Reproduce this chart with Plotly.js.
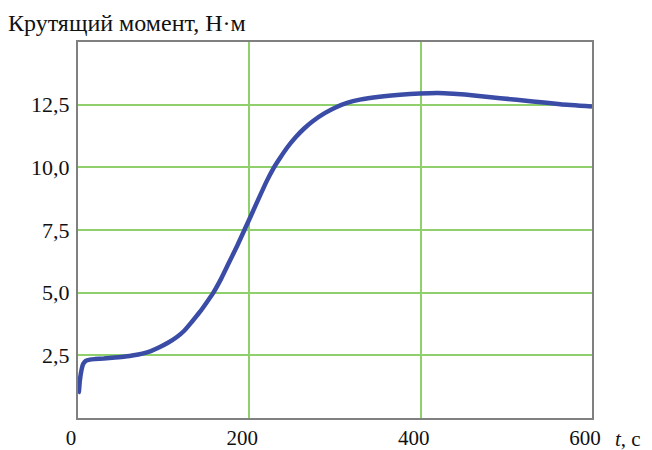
<!DOCTYPE html>
<html>
<head>
<meta charset="utf-8">
<script src="https://cdn.plot.ly/plotly-3.0.1.min.js"></script>
<style>html,body{margin:0;padding:0;background:#fff;}#chart{width:652px;height:450px;}</style>
</head>
<body>
<div id="chart"></div>
<script>
const timeSec = [0, 1, 2, 4, 6, 9, 14, 20, 30, 43, 55, 65, 75, 85, 95, 105, 115, 124, 133, 142, 150, 158, 167, 176, 186, 194, 202, 211, 220, 228, 236, 244, 254, 264, 274, 288, 300, 314, 329, 352, 376, 399, 420, 438, 465, 493, 531, 563, 600];
const torque = [0.98, 1.05, 1.45, 1.9, 2.15, 2.28, 2.33, 2.35, 2.37, 2.41, 2.45, 2.5, 2.57, 2.67, 2.82, 3.0, 3.22, 3.48, 3.84, 4.22, 4.6, 5.0, 5.55, 6.18, 6.88, 7.48, 8.08, 8.76, 9.43, 9.95, 10.38, 10.78, 11.2, 11.55, 11.84, 12.16, 12.38, 12.57, 12.7, 12.82, 12.9, 12.95, 12.97, 12.94, 12.86, 12.76, 12.63, 12.52, 12.43];
const xTickVals = [0, 200, 400, 600];
const xTickText = ["0", "200", "400", "600"];
const yTickVals = [2.5, 5.0, 7.5, 10.0, 12.5];
const yTickText = ["2,5", "5,0", "7,5", "10,0", "12,5"];
const yTitle = "Крутящий момент, Н·м";
const xTitle = "<i>t</i>, с";

const font = {family: "Liberation Serif, Times New Roman, serif", size: 22, color: "#111"};
const xfont = {family: font.family, size: 21, color: "#111"};

Plotly.newPlot("chart", [{
  x: timeSec, y: torque, type: "scatter", mode: "lines",
  line: {color: "#3a4ca6", width: 4.5, shape: "spline", smoothing: 0.5},
  hoverinfo: "skip"
}], {
  width: 652, height: 450,
  margin: {l: 78, r: 60, t: 42, b: 32},
  paper_bgcolor: "#fff", plot_bgcolor: "#fff",
  showlegend: false,
  font: font,
  title: {text: yTitle, x: 8/652, xanchor: "left", xref: "container", y: 1 - 23/450, yanchor: "middle", yref: "container", font: {family: font.family, size: 24, color: "#111"}},
  xaxis: {
    range: [0, 600], tickvals: xTickVals, ticktext: xTickText,
    showgrid: true, gridcolor: "#8fd06c", gridwidth: 2,
    showline: true, mirror: true, linecolor: "#808080", linewidth: 2,
    ticks: "", zeroline: false, ticklabelshift: -7, ticklabelstandoff: 0,
    tickfont: xfont
  },
  yaxis: {
    range: [0, 15], tickvals: yTickVals, ticktext: yTickText,
    showgrid: true, gridcolor: "#8fd06c", gridwidth: 2,
    showline: true, mirror: true, linecolor: "#808080", linewidth: 2,
    ticks: "", zeroline: false, ticklabelstandoff: 2,
    tickfont: font
  },
  annotations: [{
    text: xTitle, xref: "paper", yref: "paper", x: 1, y: 0,
    xanchor: "left", yanchor: "top", xshift: 21, yshift: -7,
    showarrow: false, font: xfont
  }]
}, {staticPlot: true});
</script>
</body>
</html>
